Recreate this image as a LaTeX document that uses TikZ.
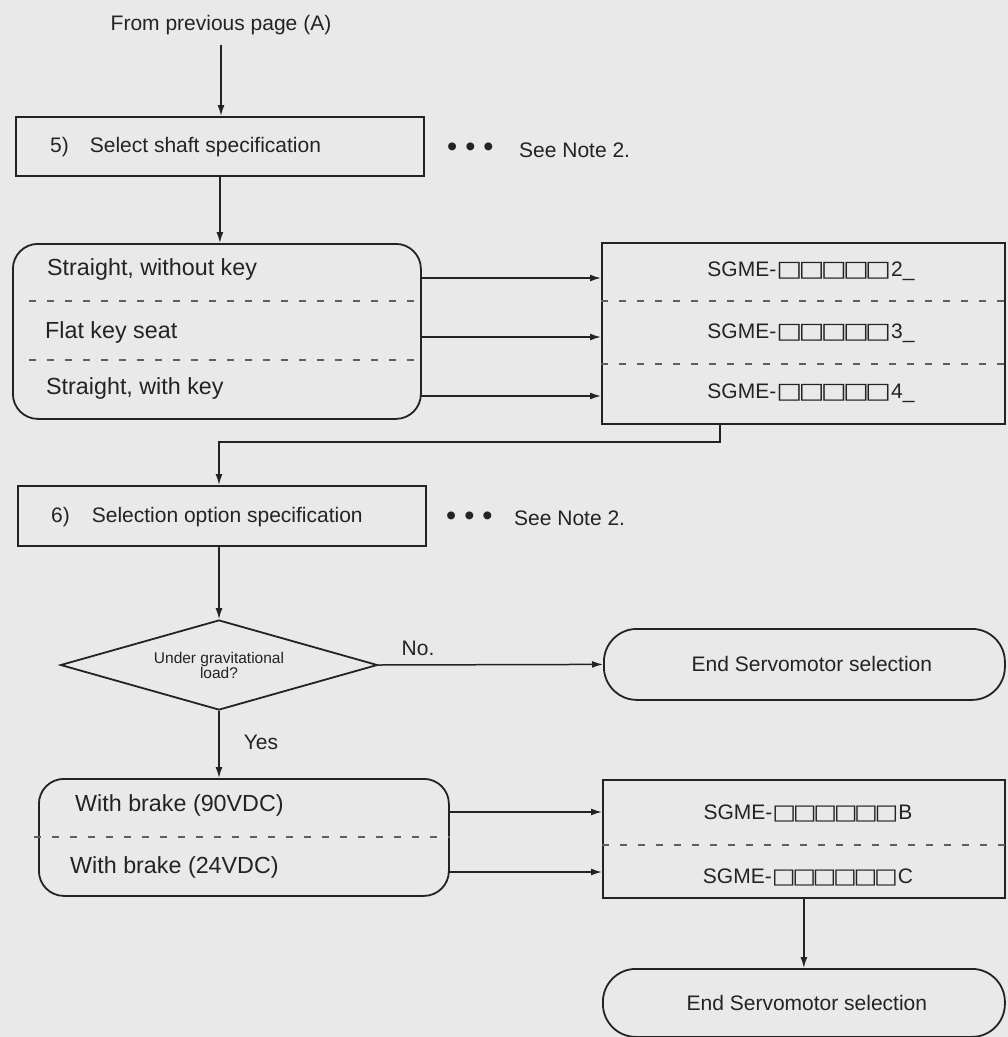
\documentclass[tikz,border=0pt]{standalone}
\usepackage{fontspec}
\usepackage{graphicx}
\setmainfont{Liberation Sans}
\newfontfamily\symfont{DejaVu Sans}
\usetikzlibrary{arrows.meta,shapes.geometric}
\definecolor{bgc}{RGB}{233,233,233}
\definecolor{ink}{RGB}{35,35,35}
\definecolor{dashc}{RGB}{95,95,95}
\newcommand{\sqs}[3]{{\symfont\fontsize{#1}{#1}\selectfont\scalebox{#2}[1]{#3}}}
\tikzset{
  shape base/.style={draw=ink, line width=1.8pt, inner sep=0pt},
  stepbox/.style={shape base, rectangle},
  optbox/.style={shape base, rectangle, rounded corners=25pt},
  endbox/.style={shape base, rectangle, rounded corners=33pt, text=ink,
    font=\fontsize{21}{24}\selectfont},
  decbox/.style={shape base, diamond, aspect=3.5, align=center, text=ink,
    font=\fontsize{15.5}{15}\selectfont},
  lbl/.style={inner sep=0pt, text=ink, font=\fontsize{21}{24}\selectfont},
  optlbl/.style={inner sep=0pt, text=ink, font=\fontsize{23.3}{26}\selectfont},
  dots/.style={inner sep=0pt, text=ink, font=\fontsize{29}{29}\selectfont},
  dashl/.style={draw=dashc, line width=1.5pt, dash pattern=on 7pt off 11pt},
  conn/.style={draw=ink, line width=1.5pt},
  arr/.style={conn, -{Latex[length=11pt,width=7pt]}},
}
\begin{document}
\begin{tikzpicture}[x=1pt,y=-1pt]
\fill[bgc] (0,0) rectangle (1008,1037);
\useasboundingbox (0,0) rectangle (1008,1037);

% ---- top
\node[lbl] (from) at (221,25) {From previous page (A)};
\node[stepbox, minimum width=408pt, minimum height=59pt, anchor=north west] (s5) at (15,116) {};
\node[lbl, anchor=west] (s5t) at (50,147) {5)\hspace{21pt}Select shaft specification};
\node[dots, anchor=west] (d1) at (447,150) {•\hspace{8pt}•\hspace{8pt}•};
\node[lbl, anchor=west] (n1) at (519,150) {See Note 2.};
\draw[arr] (from.south |- 0,45) -- (from.south |- s5.north);

% ---- shaft options
\node[optbox, minimum width=408pt, minimum height=175pt, anchor=north west] (sh) at (12,243) {};
\draw[arr] (s5.south) -- (s5.south |- sh.north);
\draw[dashl] (29,301) -- (sh.east |- 0,301);
\draw[dashl] (29,360) -- (sh.east |- 0,360);
\node[optlbl, anchor=west] (o1) at (47,269) {Straight, without key};
\node[optlbl, anchor=west] (o2) at (45,332) {Flat key seat};
\node[optlbl, anchor=west] (o3) at (46,388) {Straight, with key};

\node[stepbox, minimum width=403pt, minimum height=181pt, anchor=north west] (sg) at (601,242) {};
\draw[dashl] (sg.west |- 0,301) -- (sg.east |- 0,301);
\draw[dashl] (sg.west |- 0,364) -- (sg.east |- 0,364);
\node[lbl] (g1) at (811,271) {SGME-\sqs{22}{1.25}{□\kern-3pt□\kern-3pt□\kern-3pt□\kern-3pt□}2\_};
\node[lbl] (g2) at (811,333) {SGME-\sqs{22}{1.25}{□\kern-3pt□\kern-3pt□\kern-3pt□\kern-3pt□}3\_};
\node[lbl] (g3) at (811,393) {SGME-\sqs{22}{1.25}{□\kern-3pt□\kern-3pt□\kern-3pt□\kern-3pt□}4\_};

\coordinate (a1) at (420,278);
\coordinate (a2) at (420,337);
\coordinate (a3) at (420,396);
\draw[arr] (a1) -- (a1 -| sg.west);
\draw[arr] (a2) -- (a2 -| sg.west);
\draw[arr] (a3) -- (a3 -| sg.west);

% ---- option spec
\node[stepbox, minimum width=408pt, minimum height=60pt, anchor=north west] (s6) at (17,485) {};
\node[lbl, anchor=west] (s6t) at (51,517) {6)\hspace{22pt}Selection option specification};
\node[dots, anchor=west] (d2) at (446,519) {•\hspace{8pt}•\hspace{8pt}•};
\node[lbl, anchor=west] (n2) at (514,518) {See Note 2.};
\coordinate (c1) at (720,442);
\coordinate (c2) at (219,442);
\draw[arr] (sg.south -| c1) -- (c1) -- (c2) -- (c2 |- s6.north);

% ---- decision
\node[decbox, minimum width=317pt, minimum height=90pt] (dec) at (219,665) {Under gravitational\\load?};
\draw[arr] (c2 |- s6.south) -- (c2 |- dec.north);
\node[endbox, minimum width=401pt, minimum height=71pt, anchor=north west] (end1) at (603,628) {\hspace*{15pt}End Servomotor selection};
\draw[arr] (dec.east) -- (end1.west);
\node[lbl] (no) at (418,648) {No.};

% ---- brake options
\node[optbox, minimum width=410pt, minimum height=117pt, anchor=north west] (br) at (38,778) {};
\draw[arr] (dec.south) -- (dec.south |- br.north);
\node[lbl] (yes) at (261,742) {Yes};
\draw[dashl] (34,837) -- (br.east |- 0,837);
\node[optlbl, anchor=west] (b1) at (75,805) {With brake (90VDC)};
\node[optlbl, anchor=west] (b2) at (70,867) {With brake (24VDC)};

\node[stepbox, minimum width=402pt, minimum height=118pt, anchor=north west] (sg2) at (602,779) {};
\draw[dashl] (sg2.west |- 0,845) -- (sg2.east |- 0,845);
\node[lbl] (h1) at (808,813) {SGME-\sqs{21}{1.2}{□\kern-2.8pt□\kern-2.8pt□\kern-2.8pt□\kern-2.8pt□\kern-2.8pt□}B};
\node[lbl] (h2) at (808,877) {SGME-\sqs{21}{1.2}{□\kern-2.8pt□\kern-2.8pt□\kern-2.8pt□\kern-2.8pt□\kern-2.8pt□}C};
\coordinate (a4) at (448,812);
\coordinate (a5) at (448,872);
\draw[arr] (a4) -- (a4 -| sg2.west);
\draw[arr] (a5) -- (a5 -| sg2.west);

\node[endbox, minimum width=402pt, minimum height=68pt, anchor=north west] (end2) at (602,968) {\hspace*{6pt}End Servomotor selection};
\draw[arr] (sg2.south) -- (end2.north);
\end{tikzpicture}
\end{document}
